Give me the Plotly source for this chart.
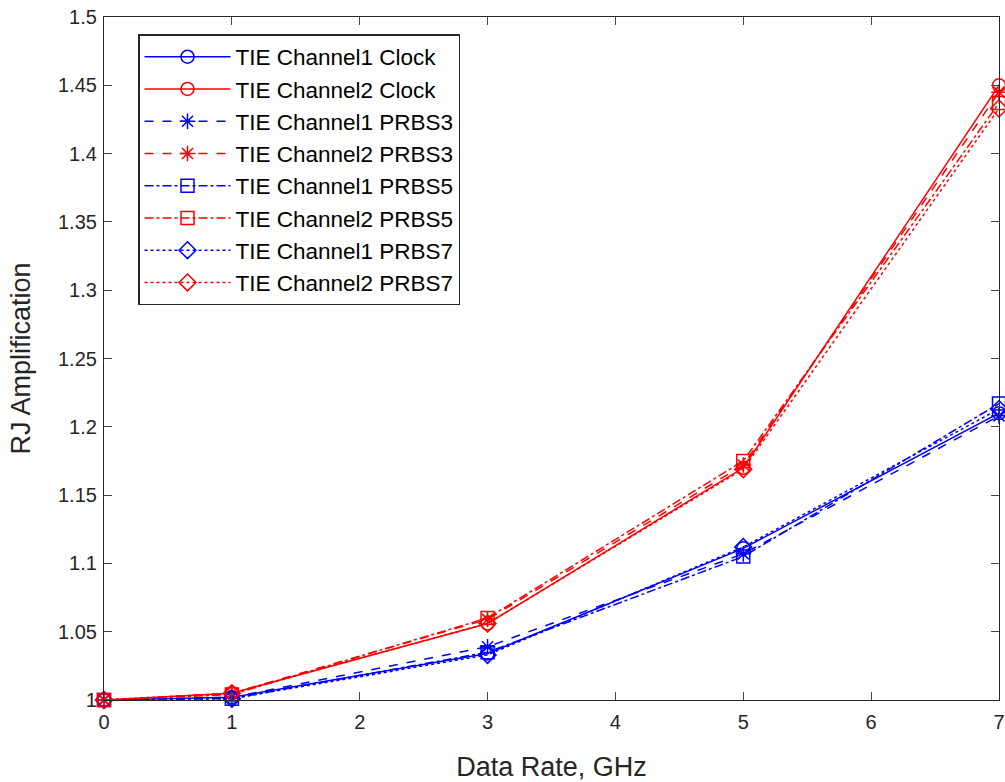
import plotly.graph_objects as go

data_rate = [0, 1, 3, 5, 7]

ch1_clock = [1.000, 1.002, 1.034, 1.111, 1.210]
ch2_clock = [1.000, 1.005, 1.056, 1.170, 1.450]
ch1_prbs3 = [1.000, 1.002, 1.039, 1.107, 1.208]
ch2_prbs3 = [1.000, 1.005, 1.059, 1.172, 1.445]
ch1_prbs5 = [1.000, 1.001, 1.035, 1.105, 1.217]
ch2_prbs5 = [1.000, 1.004, 1.060, 1.175, 1.437]
ch1_prbs7 = [1.000, 1.001, 1.033, 1.112, 1.213]
ch2_prbs7 = [1.000, 1.005, 1.056, 1.169, 1.433]

x_ticks = [0, 1, 2, 3, 4, 5, 6, 7]
y_ticks = [1.0, 1.05, 1.1, 1.15, 1.2, 1.25, 1.3, 1.35, 1.4, 1.45, 1.5]
y_tick_labels = ["1", "1.05", "1.1", "1.15", "1.2", "1.25", "1.3", "1.35", "1.4", "1.45", "1.5"]

BLUE = "#0000ff"
RED = "#ff0000"

series = [
    ("TIE Channel1 Clock", ch1_clock, BLUE, "solid", "circle-open"),
    ("TIE Channel2 Clock", ch2_clock, RED, "solid", "circle-open"),
    ("TIE Channel1 PRBS3", ch1_prbs3, BLUE, "dash", "asterisk-open"),
    ("TIE Channel2 PRBS3", ch2_prbs3, RED, "dash", "asterisk-open"),
    ("TIE Channel1 PRBS5", ch1_prbs5, BLUE, "dashdot", "square-open"),
    ("TIE Channel2 PRBS5", ch2_prbs5, RED, "dashdot", "square-open"),
    ("TIE Channel1 PRBS7", ch1_prbs7, BLUE, "dot", "diamond-open"),
    ("TIE Channel2 PRBS7", ch2_prbs7, RED, "dot", "diamond-open"),
]

fig = go.Figure()
for name, ys, color, dash, sym in series:
    fig.add_trace(go.Scatter(
        x=data_rate, y=ys, name=name, mode="lines+markers", cliponaxis=False,
        line=dict(color=color, width=1.5, dash=dash),
        marker=dict(symbol=sym, size=13, color=color, line=dict(color=color, width=1.5)),
    ))

font_family = "Liberation Sans, Arial, sans-serif"
axis_color = "#262626"

fig.update_layout(
    width=1005, height=782,
    margin=dict(l=104, r=6, t=17, b=82),
    paper_bgcolor="white", plot_bgcolor="white",
    font=dict(family=font_family, size=20, color=axis_color),
    showlegend=True,
    legend=dict(
        x=0.038, y=0.975, xanchor="left", yanchor="top",
        bgcolor="white", bordercolor=axis_color, borderwidth=1.5,
        font=dict(family=font_family, size=22.5, color="black"),
        tracegroupgap=0, itemwidth=86,
    ),
    xaxis=dict(
        range=[0, 7], tickvals=x_ticks, ticks="inside", ticklen=8,
        showline=True, linecolor=axis_color, linewidth=1.2, mirror="ticks",
        showgrid=False, zeroline=False, automargin=False,
        ticklabelstandoff=4,
        tickfont=dict(size=20, color=axis_color),
        title=dict(text="Data Rate, GHz", font=dict(size=27, color=axis_color), standoff=26),
    ),
    yaxis=dict(
        range=[1.0, 1.5], tickvals=y_ticks, ticktext=y_tick_labels,
        ticks="inside", ticklen=8,
        showline=True, linecolor=axis_color, linewidth=1.2, mirror="ticks",
        showgrid=False, zeroline=False, automargin=False,
        ticklabelstandoff=2,
        tickfont=dict(size=20, color=axis_color),
        title=dict(text="RJ Amplification", font=dict(size=27, color=axis_color), standoff=19),
    ),
)

fig.write_html("out.html")
